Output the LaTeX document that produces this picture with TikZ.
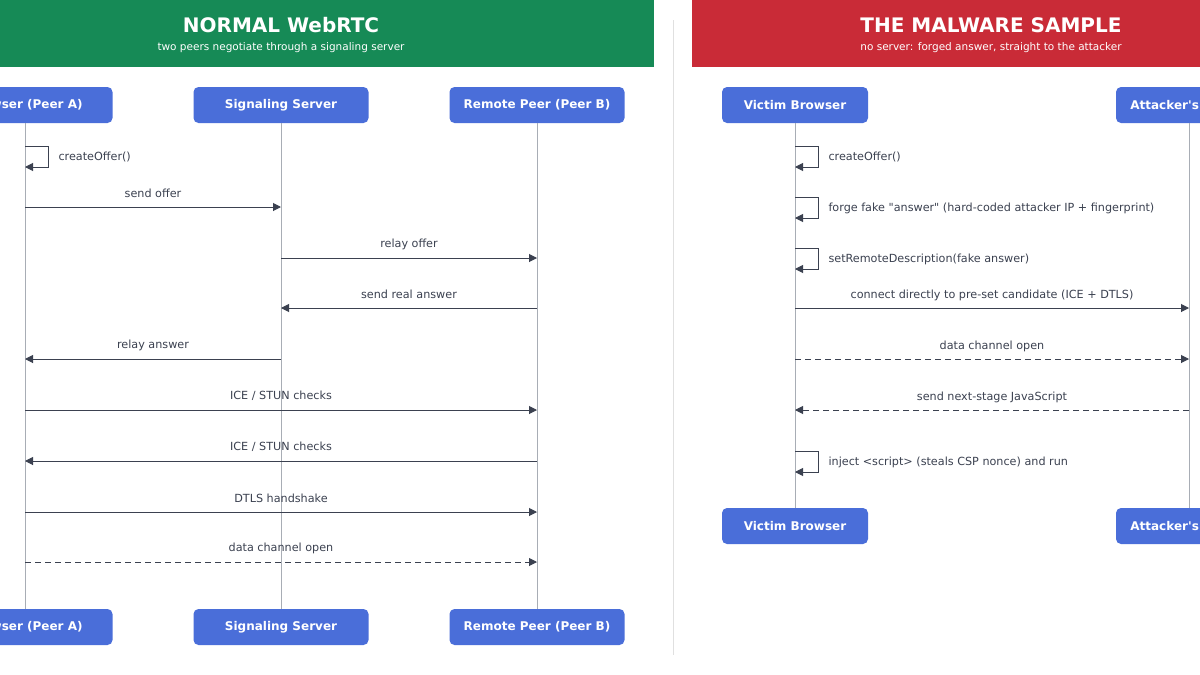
\documentclass[tikz,border=0pt]{standalone}
\usepackage{fontspec}
\setmainfont[Ligatures=TeXReset]{DejaVu Sans}
\usetikzlibrary{arrows.meta}
\definecolor{grn}{HTML}{168A56}
\definecolor{rd}{HTML}{C92B37}
\definecolor{bx}{HTML}{4A6ED9}
\definecolor{ln}{HTML}{3B4150}
\definecolor{life}{HTML}{A8ADB5}
\begin{document}
\begin{tikzpicture}[x=1pt,y=-1pt,
 actor/.style={draw=none,fill=bx,rounded corners=5pt,minimum height=36pt,text=white,font=\fontsize{12}{14}\selectfont\bfseries},
 lifel/.style={draw=life,line width=0.7pt},
 msg/.style={draw=ln,line width=1pt,-{Triangle[length=8pt,width=8pt]}},
 dmsg/.style={msg,dash pattern=on 6pt off 4pt},
 lab/.style={font=\fontsize{11.2}{13}\selectfont,text=ln},
 title/.style={font=\fontsize{20}{24}\selectfont\bfseries,text=white},
 sub/.style={font=\fontsize{10.5}{12}\selectfont,text=white}]
\useasboundingbox (0,0) rectangle (1200,675);
\clip (0,0) rectangle (1200,675);
\fill[white] (0,0) rectangle (1200,675);
% headers
\fill[grn] (-5,0) rectangle (654,67);
\node[title] (t1) at (281,25) {NORMAL WebRTC};
\node[sub] (s1) at (281,48) {two peers negotiate through a signaling server};
\fill[rd] (692,0) rectangle (1205,67);
\node[title] (t2) at (991,25) {THE MALWARE SAMPLE};
\node[sub] (s2) at (991,48) {no server: forged answer, straight to the attacker};
\draw[draw=black!12,line width=0.8pt] (673,20) -- (673,655);
% left actors
\node[actor,minimum width=175pt] (a1) at (25,105) {Browser (Peer A)};
\node[actor,minimum width=175pt] (b1) at (281,105) {Signaling Server};
\node[actor,minimum width=175pt] (c1) at (537,105) {Remote Peer (Peer B)};
\node[actor,minimum width=175pt] (a2) at (25,627) {Browser (Peer A)};
\node[actor,minimum width=175pt] (b2) at (281,627) {Signaling Server};
\node[actor,minimum width=175pt] (c2) at (537,627) {Remote Peer (Peer B)};
\draw[lifel] (a1) -- (a2); \draw[lifel] (b1) -- (b2); \draw[lifel] (c1) -- (c2);
% left messages
\coordinate (l1) at (25,146); \coordinate (l2) at (25,167);
\draw[msg] (l1) -- ++(23,0) |- (l2);
\node[lab,anchor=west] (m0) at (55,157) {createOffer()};
\foreach \y/\f/\t/\s/\txt in {207/25/281/msg/{send offer}, 258/281/537/msg/{relay offer}, 308/537/281/msg/{send real answer}, 359/281/25/msg/{relay answer}, 410/25/537/msg/{ICE / STUN checks}, 461/537/25/msg/{ICE / STUN checks}, 512/25/537/msg/{DTLS handshake}, 562/25/537/dmsg/{data channel open}}{
 \coordinate (f) at (\f,\y); \coordinate (t) at (\t,\y);
 \draw[\s] (f) -- (t);
 \node[lab] at ({(\f+\t)/2},\y-14) {\txt};
}
% right actors
\node[actor,minimum width=146pt] (v1) at (795,105) {Victim Browser};
\node[actor,minimum width=146pt] (x1) at (1189,105) {Attacker's Server};
\node[actor,minimum width=146pt] (v2) at (795,526) {Victim Browser};
\node[actor,minimum width=146pt] (x2) at (1189,526) {Attacker's Server};
\draw[lifel] (v1) -- (v2); \draw[lifel] (x1) -- (x2);
\foreach \y/\txt in {146/{createOffer()}, 197/{forge fake "answer" (hard-coded attacker IP + fingerprint)}, 248/{setRemoteDescription(fake answer)}, 451/{inject <script> (steals CSP nonce) and run}}{
 \coordinate (p) at (795,\y); \coordinate (q) at (795,\y+21);
 \draw[msg] (p) -- ++(23,0) |- (q);
 \node[lab,anchor=west] at (825,\y+11) {\txt};
}
\coordinate (r1) at (795,308); \coordinate (r2) at (1189,308);
\draw[msg] (r1) -- (r2); \node[lab] at (992,295) {connect directly to pre-set candidate (ICE + DTLS)};
\coordinate (r3) at (795,359); \coordinate (r4) at (1189,359);
\draw[dmsg] (r3) -- (r4); \node[lab] at (992,346) {data channel open};
\coordinate (r5) at (1189,410); \coordinate (r6) at (795,410);
\draw[dmsg] (r5) -- (r6); \node[lab] at (992,397) {send next-stage JavaScript};
\end{tikzpicture}
\end{document}
